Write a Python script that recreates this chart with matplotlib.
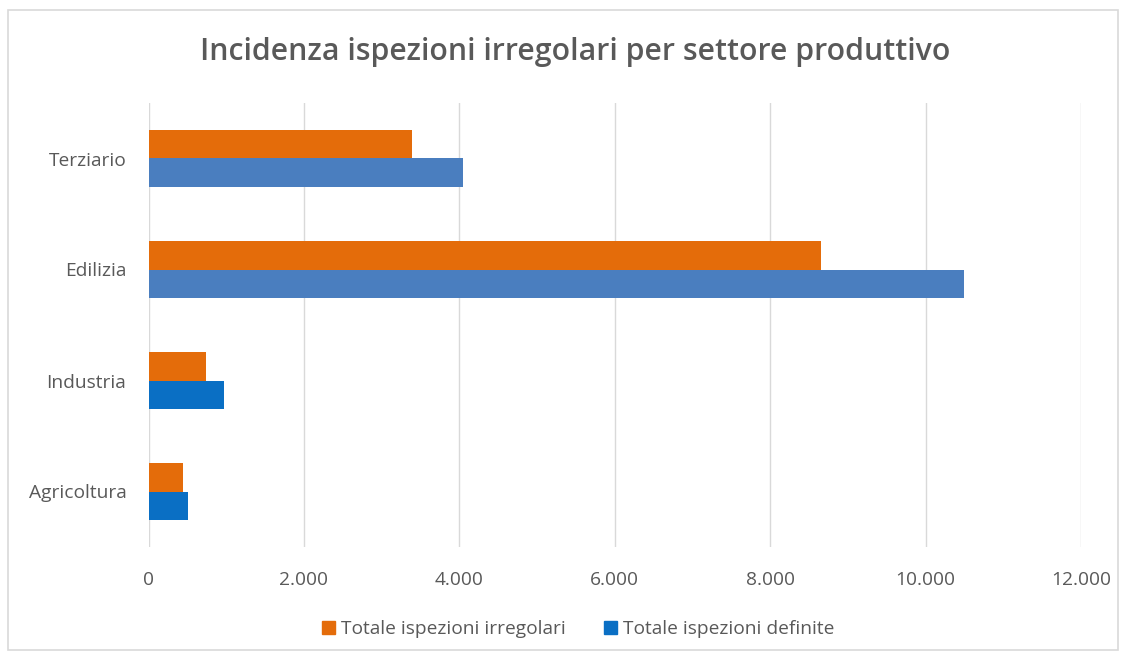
import matplotlib
matplotlib.use("Agg")
import matplotlib.pyplot as plt
from matplotlib.patches import Rectangle, Patch
from matplotlib.ticker import FuncFormatter

categories = ["Agricoltura", "Industria", "Edilizia", "Terziario"]
irregolari = [440, 736, 8655, 3387]
definite = [504, 972, 10499, 4044]
series_names = ["Totale ispezioni irregolari", "Totale ispezioni definite"]
title = "Incidenza ispezioni irregolari per settore produttivo"

orange = "#E46C0A"
blue_cols = ["#0A6FC4", "#0A6FC4", "#4A7EBF", "#4A7EBF"]
legend_blue = "#0A6FC4"

plt.rcParams['font.family'] = ['Open Sans', 'DejaVu Sans']

fig = plt.figure(figsize=(11.28, 6.57), dpi=100)
W, H = 1128, 657
ax = fig.add_axes([148.5 / W, 1 - 547 / H, (1081 - 148.5) / W, (547 - 103) / H])

# outer border
fig.patches.append(Rectangle((8 / W, 1 - 650 / H), 1110 / W, 640 / H, transform=fig.transFigure,
                             fill=False, edgecolor="#D9D9D9", linewidth=1.2))

h = 0.257
y = list(range(len(categories)))
ax.barh([v + h / 2 for v in y], irregolari, height=h, color=orange, label=series_names[0], zorder=3)
ax.barh([v - h / 2 for v in y], definite, height=h, color=blue_cols, label=series_names[1], zorder=3)

ax.set_ylim(-0.5, len(categories) - 0.5)
ax.set_xlim(0, 12000)
ax.set_xticks(range(0, 12001, 2000))
ax.xaxis.set_major_formatter(FuncFormatter(lambda v, p: f"{int(v):,}".replace(",", ".")))
ax.set_yticks(y)
ax.set_yticklabels(categories)
ax.grid(axis="x", color="#D9D9D9", linewidth=1, zorder=0)
for s in ax.spines.values():
    s.set_visible(False)
ax.tick_params(axis="both", length=0, labelsize=13.8, labelcolor="#595959")
ax.tick_params(axis="x", pad=17)
ax.tick_params(axis="y", pad=16)

fig.text(575 / W, 1 - 52 / H, title, ha="center", va="center", fontsize=21.8,
         color="#595959", fontweight="semibold")

handles = [Patch(color=orange), Patch(color=legend_blue)]
fig.legend(handles, series_names, loc="center", bbox_to_anchor=(578 / W, 1 - 629 / H), ncol=2,
           frameon=False, fontsize=13.8, labelcolor="#595959", handlelength=0.7, handleheight=0.7,
           handletextpad=0.3, columnspacing=2.0)

fig.savefig("out.png", dpi=100)
